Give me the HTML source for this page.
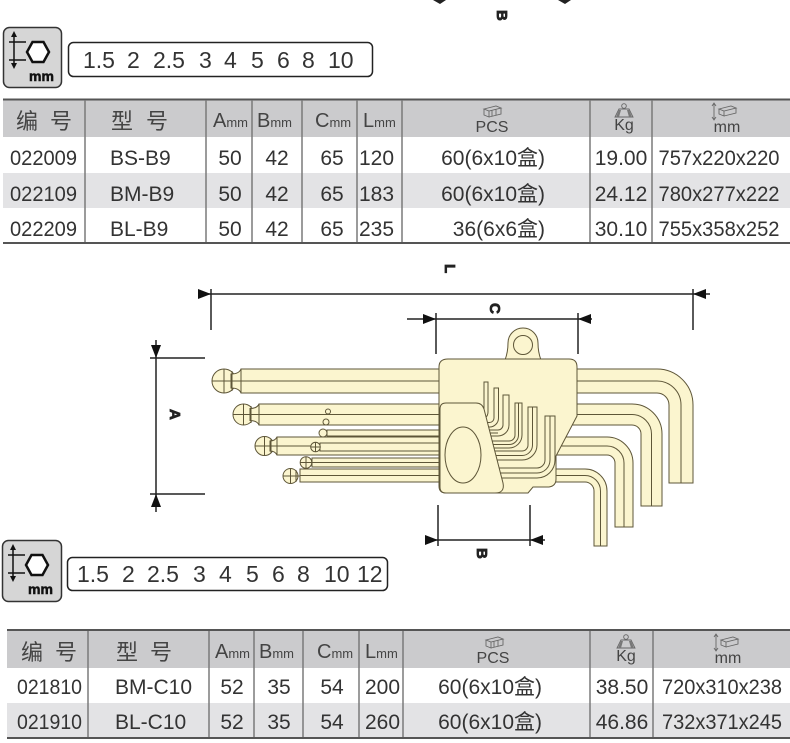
<!DOCTYPE html>
<html><head><meta charset="utf-8"><style>
html,body{margin:0;padding:0;background:#fff;}
svg{display:block;}
text{font-family:"Liberation Sans","Noto Sans CJK SC",sans-serif;}
</style></head><body>
<svg width="790" height="743" viewBox="0 0 790 743" xmlns="http://www.w3.org/2000/svg">
<rect width="790" height="743" fill="#fff"/>

<!-- top cut-off fragment -->
<path d="M433,0 H446 L440,4 Z" fill="#222"/>
<path d="M558,0 H571 L565,4 Z" fill="#222"/>
<text x="0" y="0" font-size="15" font-weight="bold" fill="#222" stroke="#222" stroke-width="0.8" transform="translate(497,10) rotate(90)">B</text>

<!-- ===== Icon box 1 ===== -->
<g>
<rect x="3.5" y="27.5" width="58" height="60" rx="6" fill="#d6d6d6" stroke="#333" stroke-width="1.5"/>
<line x1="14" y1="33" x2="14" y2="67" stroke="#111" stroke-width="1.5"/>
<path d="M11,37 L14,31 L17,37 Z M11,63 L14,69 L17,63 Z" fill="#111"/>
<line x1="9" y1="42" x2="26" y2="42" stroke="#111" stroke-width="1.5"/>
<line x1="9" y1="60" x2="26" y2="60" stroke="#111" stroke-width="1.5"/>
<polygon points="27,52 32.5,42 43.5,42 49,52 43.5,62 32.5,62" fill="#fff" stroke="#111" stroke-width="2.5"/>
<text x="29" y="81" font-size="14" font-weight="bold" fill="#111" stroke="#111" stroke-width="0.5">mm</text>
</g>
<rect x="68.5" y="42.5" width="304" height="34" rx="5" fill="#fff" stroke="#222" stroke-width="1.5"/>
<g font-size="23" fill="#333">
<text x="83" y="68">1.5</text><text x="127" y="68">2</text><text x="153" y="68">2.5</text>
<text x="199" y="68">3</text><text x="224" y="68">4</text><text x="251" y="68">5</text>
<text x="277" y="68">6</text><text x="302" y="68">8</text><text x="328" y="68">10</text>
</g>

<!-- ===== Table 1 ===== -->
<rect x="3" y="100" width="787" height="37" fill="#cbcbcd"/>
<rect x="3" y="137" width="787" height="36" fill="#fff"/>
<rect x="3" y="173" width="787" height="35" fill="#e3e3e5"/>
<rect x="3" y="208" width="787" height="35" fill="#fff"/>
<line x1="3" y1="99.5" x2="790" y2="99.5" stroke="#555" stroke-width="2"/>
<line x1="3" y1="243" x2="790" y2="243" stroke="#555" stroke-width="2"/>
<g stroke="#7a7a7a" stroke-width="1.5">
<line x1="85" y1="100" x2="85" y2="242"/><line x1="206" y1="100" x2="206" y2="242"/>
<line x1="252" y1="100" x2="252" y2="242"/><line x1="302" y1="100" x2="302" y2="242"/>
<line x1="357" y1="100" x2="357" y2="242"/><line x1="402" y1="100" x2="402" y2="242"/>
<line x1="590" y1="100" x2="590" y2="242"/><line x1="652" y1="100" x2="652" y2="242"/>
</g>
<g fill="#444">
<text x="16" y="129" font-size="22">编</text><text x="50" y="129" font-size="22">号</text>
<text x="111" y="129" font-size="22">型</text><text x="146" y="129" font-size="22">号</text>
<text x="213" y="127" font-size="20">A<tspan font-size="13">mm</tspan></text>
<text x="257" y="127" font-size="20">B<tspan font-size="13">mm</tspan></text>
<text x="315" y="127" font-size="20">C<tspan font-size="13">mm</tspan></text>
<text x="363" y="127" font-size="20">L<tspan font-size="13">mm</tspan></text>
<text x="492" y="132" font-size="16" text-anchor="middle">PCS</text>
<text x="624" y="130" font-size="16" text-anchor="middle">Kg</text>
<text x="727" y="132" font-size="16" text-anchor="middle">mm</text>
</g>
<g stroke="#666" stroke-width="0.9" fill="none">
<path d="M484,109 L496,106 L501,108 L489,111 Z M484,109 V115 L489,117 V111 M489,117 L501,114 V108 M492,110 V116 M496,109 V115"/>
<circle cx="624" cy="106" r="2.3"/>
<path d="M619,109 H629 L633,117 H615 Z"/>
<path d="M714,104 V119 M712,106 L714,103 L716,106 M712,117 L714,120 L716,117"/>
<path d="M719,109 L731,106 L736,108 L724,111 Z M719,109 V114 L724,116 V111 M724,116 L736,113 V108"/>
</g>
<path d="M616,117 L619,110 H621 L619,117 Z M632,117 L629,110 H627 L629,117 Z" fill="#777"/>
<g fill="#333" font-size="21">
<text x="10" y="165" textLength="67" lengthAdjust="spacingAndGlyphs">022009</text><text x="110" y="165">BS-B9</text>
<text x="230" y="165" text-anchor="middle">50</text><text x="277" y="165" text-anchor="middle">42</text>
<text x="332" y="165" text-anchor="middle">65</text><text x="359" y="165">120</text>
<text x="545" y="165" text-anchor="end">60(6x10盒)</text>
<text x="621" y="165" text-anchor="middle">19.00</text><text x="719" y="165" text-anchor="middle" textLength="121" lengthAdjust="spacingAndGlyphs">757x220x220</text>

<text x="10" y="201" textLength="67" lengthAdjust="spacingAndGlyphs">022109</text><text x="110" y="201">BM-B9</text>
<text x="230" y="201" text-anchor="middle">50</text><text x="277" y="201" text-anchor="middle">42</text>
<text x="332" y="201" text-anchor="middle">65</text><text x="359" y="201">183</text>
<text x="545" y="201" text-anchor="end">60(6x10盒)</text>
<text x="621" y="201" text-anchor="middle">24.12</text><text x="719" y="201" text-anchor="middle" textLength="121" lengthAdjust="spacingAndGlyphs">780x277x222</text>

<text x="10" y="236" textLength="67" lengthAdjust="spacingAndGlyphs">022209</text><text x="110" y="236">BL-B9</text>
<text x="230" y="236" text-anchor="middle">50</text><text x="277" y="236" text-anchor="middle">42</text>
<text x="332" y="236" text-anchor="middle">65</text><text x="359" y="236">235</text>
<text x="545" y="236" text-anchor="end">36(6x6盒)</text>
<text x="621" y="236" text-anchor="middle">30.10</text><text x="719" y="236" text-anchor="middle" textLength="121" lengthAdjust="spacingAndGlyphs">755x358x252</text>
</g>

<!-- ===== Diagram ===== -->
<g stroke="#222" stroke-width="1.5" fill="none">
<line x1="199" y1="294" x2="710" y2="294"/>
<line x1="211" y1="289" x2="211" y2="330"/>
<line x1="693" y1="289" x2="693" y2="330"/>
<line x1="407" y1="319" x2="592" y2="319"/>
<line x1="436" y1="313" x2="436" y2="354"/>
<line x1="578" y1="313" x2="578" y2="354"/>
<line x1="156" y1="340" x2="156" y2="512"/>
<line x1="150" y1="358" x2="205" y2="358"/>
<line x1="150" y1="494" x2="205" y2="494"/>
<line x1="425" y1="540" x2="545" y2="540"/>
<line x1="438" y1="505" x2="438" y2="546"/>
<line x1="530" y1="505" x2="530" y2="546"/>
</g>
<g fill="#111">
<path d="M198,289 L211,294 L198,299 Z"/>
<path d="M706,289 L693,294 L706,299 Z"/>
<path d="M423,314 L436,319 L423,324 Z"/>
<path d="M591,314 L578,319 L591,324 Z"/>
<path d="M151,345 L156,358 L161,345 Z"/>
<path d="M151,507 L156,494 L161,507 Z"/>
<path d="M425,535 L438,540 L425,545 Z"/>
<path d="M543,535 L530,540 L543,545 Z"/>
</g>
<g font-size="15" font-weight="bold" fill="#222" stroke="#222" stroke-width="0.8">
<text transform="translate(445,264) rotate(90)">L</text>
<text transform="translate(490,303) rotate(90)">C</text>
<text transform="translate(170,409) rotate(90)">A</text>
<text transform="translate(477,548) rotate(90)">B</text>
</g>

<!-- wrenches -->
<g stroke="#5e5638" stroke-width="1" fill="#fbf5cf">
<rect x="330" y="410" width="200" height="3.5" fill="#8a7f62"/>
<rect x="329" y="420" width="200" height="4.5" fill="#cfc7a6"/>
<rect x="327" y="430" width="200" height="6"/>
<path d="M241,369 H657 A36,36 0 0 1 693,405 V483 H669 V405 A12,12 0 0 0 657,393 H241 Z"/>
<path d="M241,381 H657 A24,24 0 0 1 681,405 V483" fill="none"/>
<circle cx="224" cy="381" r="12"/>
<path d="M231,374 Q239,374 241,369 V393 Q239,388 231,388 Z"/>
<path d="M212,381 H241 M224,369 V393 M232,371 V391" fill="none"/>
<path d="M259,404 H632 A30,30 0 0 1 662,434 V506 H641 V434 A9,9 0 0 0 632,425 H259 Z"/>
<path d="M259,414.5 H632 A19.5,19.5 0 0 1 651.5,434 V506" fill="none"/>
<circle cx="243.5" cy="414.5" r="10.5"/>
<path d="M250,408.5 Q257,408.5 259,404 V425 Q257,420.5 250,420.5 Z"/>
<path d="M233,414.5 H259 M243.5,404 V425 M251,406 V423" fill="none"/>
<path d="M277,437 H607 A26,26 0 0 1 633,463 V527 H615 V463 A8,8 0 0 0 607,455 H277 Z"/>
<path d="M277,446 H607 A17,17 0 0 1 624,463 V527" fill="none"/>
<circle cx="264.5" cy="446" r="9.5"/>
<path d="M270,441 Q275,441 277,437 V455 Q275,451 270,451 Z"/>
<path d="M255,446 H277 M264.5,437 V455 M271,439 V453" fill="none"/>
<rect x="320" y="443" width="200" height="8"/>
<circle cx="315.5" cy="447" r="4.8"/>
<path d="M311,447 H320 M315.5,442 V452" fill="none"/>
<rect x="312" y="458" width="210" height="9"/>
<path d="M312,462.5 H522" fill="none"/>
<circle cx="306" cy="462.5" r="5.8"/>
<path d="M300,462.5 H312 M306,457 V468" fill="none"/>
<path d="M300,469 H585 A22,22 0 0 1 607,491 V546 H594 V491 A9,9 0 0 0 585,482 H300 Z"/>
<path d="M300,475.5 H585 A15.5,15.5 0 0 1 600.5,491 V546" fill="none"/>
<circle cx="290.5" cy="476" r="7.5"/>
<path d="M283,476 H300 M290.5,468.5 V483.5 M296,470 V482" fill="none"/>
<circle cx="326" cy="422" r="3"/>
<circle cx="323" cy="433" r="4"/>
<circle cx="328" cy="411.5" r="2.5"/>
</g>

<!-- holder -->
<g stroke="#5e5638" stroke-width="1" fill="#fbf5cf">
<path d="M505,360 Q508,352 508,343 A15,15 0 0 1 538,343 Q538,352 541,360 Z"/>
<circle cx="523" cy="345" r="9.5"/>
<path d="M448,359 H569 Q577,359 577,367 V416 L556,456 V479 Q556,486 549,487 H533 L528,493 H446 Q439,493 439,486 V367 Q439,359 448,359 Z"/>
<path d="M484,382 H488 V412 A8,8 0 0 1 480,420 H470 V416 H480 A4,4 0 0 0 484,412 Z"/>
<path d="M494,388 H498.5 V418 A9,9 0 0 1 489.5,427 H470 V422.5 H489.5 A4.5,4.5 0 0 0 494,418 Z"/>
<path d="M503,395 H509 V425 A11,11 0 0 1 498,436 H470 V430 H498 A5,5 0 0 0 503,425 Z"/>
<path d="M498,433 H470" fill="none"/>
<path d="M515,403 H522 V435 A13,13 0 0 1 509,448 H470 V441 H509 A6,6 0 0 0 515,435 Z"/>
<path d="M518.5,403 V435 A9.5,9.5 0 0 1 509,444.5 H470" fill="none"/>
<path d="M528,407 H537 V445 A15,15 0 0 1 522,460 H470 V451 H522 A6,6 0 0 0 528,445 Z"/>
<path d="M532.5,407 V445 A10.5,10.5 0 0 1 522,455.5 H470" fill="none"/>
<path d="M545,416 H555 V460 A18,18 0 0 1 537,478 H470 V468 H537 A8,8 0 0 0 545,460 Z"/>
<path d="M550,416 V460 A13,13 0 0 1 537,473 H470" fill="none"/>
<path d="M446,403 H476 Q482,403 484,409 L503,483 Q505,493 495,493 H446 Q440,493 440,487 V409 Q440,403 446,403 Z"/>
<ellipse cx="463" cy="455" rx="18" ry="28"/>
</g>

<!-- ===== Icon box 2 ===== -->
<g transform="translate(-1,513)">
<rect x="3.5" y="27.5" width="59" height="61" rx="6" fill="#d6d6d6" stroke="#333" stroke-width="1.5"/>
<line x1="14" y1="33" x2="14" y2="67" stroke="#111" stroke-width="1.5"/>
<path d="M11,37 L14,31 L17,37 Z M11,63 L14,69 L17,63 Z" fill="#111"/>
<line x1="9" y1="42" x2="26" y2="42" stroke="#111" stroke-width="1.5"/>
<line x1="9" y1="60" x2="26" y2="60" stroke="#111" stroke-width="1.5"/>
<polygon points="27,52 32.5,42 43.5,42 49,52 43.5,62 32.5,62" fill="#fff" stroke="#111" stroke-width="2.5"/>
<text x="29" y="81" font-size="14" font-weight="bold" fill="#111" stroke="#111" stroke-width="0.5">mm</text>
</g>
<rect x="67.5" y="557.5" width="320" height="33" rx="5" fill="#fff" stroke="#222" stroke-width="1.5"/>
<g font-size="23" fill="#333">
<text x="77" y="582">1.5</text><text x="122" y="582">2</text><text x="147" y="582">2.5</text>
<text x="193" y="582">3</text><text x="219" y="582">4</text><text x="246" y="582">5</text>
<text x="272" y="582">6</text><text x="297" y="582">8</text><text x="324" y="582">10</text>
<text x="357" y="582">12</text>
</g>

<!-- ===== Table 2 ===== -->
<rect x="7" y="631" width="783" height="37" fill="#cbcbcd"/>
<rect x="7" y="668" width="783" height="35" fill="#fff"/>
<rect x="7" y="703" width="783" height="35" fill="#e3e3e5"/>
<line x1="7" y1="630" x2="790" y2="630" stroke="#555" stroke-width="2"/>
<line x1="7" y1="738" x2="790" y2="738" stroke="#555" stroke-width="2"/>
<g stroke="#7a7a7a" stroke-width="1.5">
<line x1="88" y1="631" x2="88" y2="737"/><line x1="209" y1="631" x2="209" y2="737"/>
<line x1="254" y1="631" x2="254" y2="737"/><line x1="303" y1="631" x2="303" y2="737"/>
<line x1="359" y1="631" x2="359" y2="737"/><line x1="403" y1="631" x2="403" y2="737"/>
<line x1="590" y1="631" x2="590" y2="737"/><line x1="653" y1="631" x2="653" y2="737"/>
</g>
<g fill="#444">
<text x="21" y="660" font-size="22">编</text><text x="55" y="660" font-size="22">号</text>
<text x="116" y="660" font-size="22">型</text><text x="150" y="660" font-size="22">号</text>
<text x="215" y="658" font-size="20">A<tspan font-size="13">mm</tspan></text>
<text x="259" y="658" font-size="20">B<tspan font-size="13">mm</tspan></text>
<text x="317" y="658" font-size="20">C<tspan font-size="13">mm</tspan></text>
<text x="365" y="658" font-size="20">L<tspan font-size="13">mm</tspan></text>
<text x="493" y="663" font-size="16" text-anchor="middle">PCS</text>
<text x="626" y="661" font-size="16" text-anchor="middle">Kg</text>
<text x="728" y="663" font-size="16" text-anchor="middle">mm</text>
</g>
<g stroke="#666" stroke-width="0.9" fill="none" transform="translate(2,531)">
<path d="M484,109 L496,106 L501,108 L489,111 Z M484,109 V115 L489,117 V111 M489,117 L501,114 V108 M492,110 V116 M496,109 V115"/>
<circle cx="624" cy="106" r="2.3"/>
<path d="M619,109 H629 L633,117 H615 Z"/>
<path d="M714,104 V119 M712,106 L714,103 L716,106 M712,117 L714,120 L716,117"/>
<path d="M719,109 L731,106 L736,108 L724,111 Z M719,109 V114 L724,116 V111 M724,116 L736,113 V108"/>
</g>
<path d="M618,648 L621,641 H623 L621,648 Z M634,648 L631,641 H629 L631,648 Z" fill="#777"/>
<g fill="#333" font-size="21">
<text x="17" y="694" textLength="65" lengthAdjust="spacingAndGlyphs">021810</text><text x="115" y="694">BM-C10</text>
<text x="232" y="694" text-anchor="middle">52</text><text x="279" y="694" text-anchor="middle">35</text>
<text x="332" y="694" text-anchor="middle">54</text><text x="365" y="694">200</text>
<text x="542" y="694" text-anchor="end">60(6x10盒)</text>
<text x="622" y="694" text-anchor="middle">38.50</text><text x="722" y="694" text-anchor="middle" textLength="120" lengthAdjust="spacingAndGlyphs">720x310x238</text>

<text x="17" y="729" textLength="65" lengthAdjust="spacingAndGlyphs">021910</text><text x="115" y="729">BL-C10</text>
<text x="232" y="729" text-anchor="middle">52</text><text x="279" y="729" text-anchor="middle">35</text>
<text x="332" y="729" text-anchor="middle">54</text><text x="365" y="729">260</text>
<text x="542" y="729" text-anchor="end">60(6x10盒)</text>
<text x="622" y="729" text-anchor="middle">46.86</text><text x="722" y="729" text-anchor="middle" textLength="120" lengthAdjust="spacingAndGlyphs">732x371x245</text>
</g>
</svg>
</body></html>
